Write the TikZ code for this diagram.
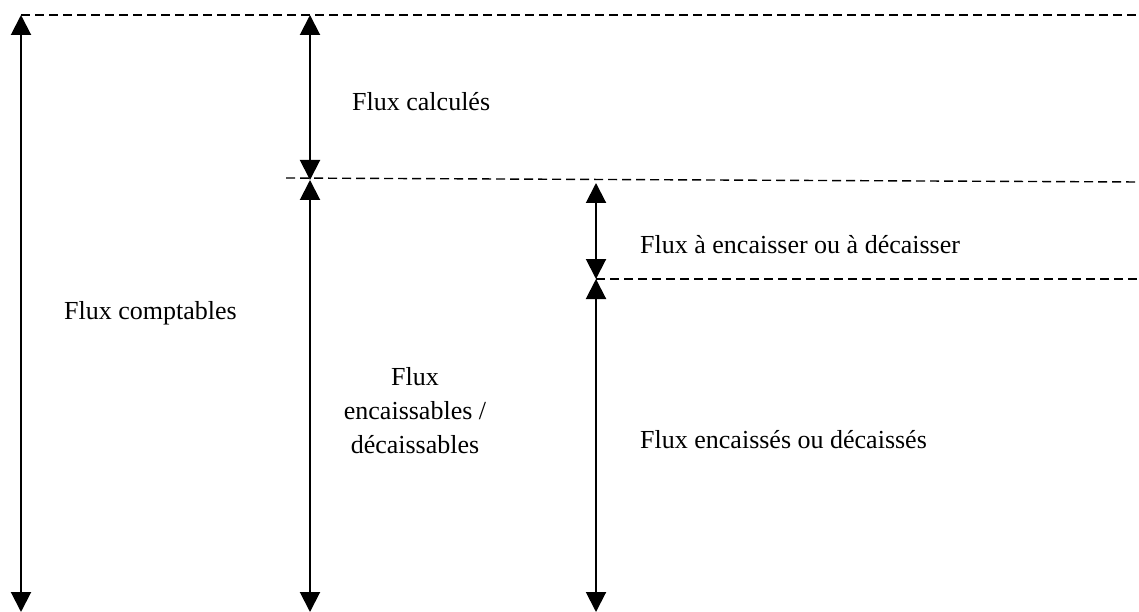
\documentclass[tikz,border=0pt]{standalone}
\usepackage{fontspec}
\setmainfont{Liberation Serif}
\usetikzlibrary{arrows.meta}
\begin{document}
\begin{tikzpicture}[x=1pt,y=-1pt,
  level/.style={dash pattern=on 9pt off 5pt, line width=1.4pt},
  span/.style={{Triangle[width=20pt,length=20pt]}-{Triangle[width=20pt,length=20pt]}, line width=2pt},
  lbl/.style={font=\fontsize{26}{34}\selectfont, inner sep=0pt}]
\useasboundingbox (0,0) rectangle (1139,612);

% levels (dashed reference lines)
\coordinate (l1a) at (21,15);   \coordinate (l1b) at (1139,15);
\coordinate (l2a) at (286,178); \coordinate (l2b) at (1139,182);
\coordinate (l3a) at (596,279); \coordinate (l3b) at (1139,279);

% arrow end points
\coordinate (a1t) at (21,15);   \coordinate (a1b) at (21,612);
\coordinate (a2t) at (310,15);  \coordinate (a2b) at (310,180);
\coordinate (a3t) at (310,180); \coordinate (a3b) at (310,612);
\coordinate (a4t) at (596,183); \coordinate (a4b) at (596,279);
\coordinate (a5t) at (596,279); \coordinate (a5b) at (596,612);

\draw[level] (l1a) -- (l1b);
\draw[level] (l2a) -- (l2b);
\draw[level] (l3a) -- (l3b);

\draw[span] (a1t) -- (a1b);
\draw[span] (a2t) -- (a2b);
\draw[span] (a3t) -- (a3b);
\draw[span] (a4t) -- (a4b);
\draw[span] (a5t) -- (a5b);

% labels
\node[lbl, anchor=base west] (calc) at (352,111) {Flux calculés};
\node[lbl, anchor=base west] (compt) at (64,319) {Flux comptables};
\node[lbl, anchor=base, align=center] (encbl) at (415,453) {Flux\\encaissables /\\décaissables};
\node[lbl, anchor=base west] (aenc) at (640,253) {Flux à encaisser ou à décaisser};
\node[lbl, anchor=base west] (enc) at (640,448) {Flux encaissés ou décaissés};
\end{tikzpicture}
\end{document}
